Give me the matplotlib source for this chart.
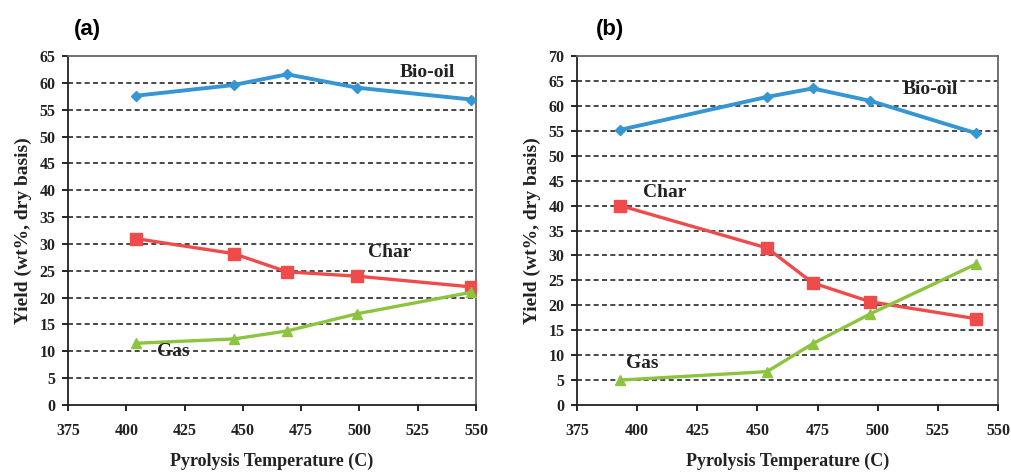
import matplotlib
matplotlib.use("Agg")
import matplotlib.pyplot as plt

# panel (a)
temp_a = [404, 446, 469, 499, 548]
biooil_a = [57.6, 59.6, 61.6, 59.1, 56.9]
char_a = [31.0, 28.2, 24.8, 24.0, 22.0]
gas_a = [11.5, 12.3, 13.8, 17.0, 21.0]

# panel (b)
temp_b = [393, 454, 473, 497, 541]
biooil_b = [55.2, 61.8, 63.5, 61.0, 54.5]
char_b = [40.0, 31.5, 24.5, 20.7, 17.3]
gas_b = [5.0, 6.7, 12.3, 18.3, 28.3]

x_ticks = [375, 400, 425, 450, 475, 500, 525, 550]

BLUE = "#3596d3"
RED = "#ef4b4b"
GREEN = "#8cc43f"
SERIF = "Liberation Serif"

plt.rcParams["font.family"] = SERIF
plt.rcParams["font.weight"] = "bold"

fig = plt.figure(figsize=(10.11, 4.72), dpi=100)
ax_a = fig.add_axes([0.0673, 0.1419, 0.4036, 0.7394])
ax_b = fig.add_axes([0.5707, 0.1419, 0.4164, 0.7394])


def draw(ax, t, bio, char, gas, ymax, labels, panel, panel_xy):
    ax.plot(t, bio, "-D", color=BLUE, lw=2.8, ms=5.5, zorder=3)
    ax.plot(t, char, "-s", color=RED, lw=2.4, ms=8.5, zorder=3)
    ax.plot(t, gas, "-^", color=GREEN, lw=2.4, ms=7.5, zorder=3)
    ax.set_xlim(375, 550)
    ax.set_ylim(0, ymax)
    ax.set_xticks(x_ticks)
    ax.set_yticks(range(0, ymax + 1, 5))
    for y in range(5, ymax, 5):
        ax.axhline(y, color="#2a2a2a", lw=1.2, ls=(0, (3, 2)), zorder=1)
    ax.tick_params(direction="out", length=4, width=1.2, labelsize=11.5)
    ax.tick_params(axis="x", pad=9)
    ax.tick_params(axis="y", pad=5)
    for lab in ax.get_xticklabels() + ax.get_yticklabels():
        lab.set_fontweight("bold")
        lab.set_color("#222222")
    for side in ["left", "bottom"]:
        ax.spines[side].set_color("#222222")
        ax.spines[side].set_linewidth(1.3)
    for side in ["top", "right"]:
        ax.spines[side].set_color("#666666")
        ax.spines[side].set_linewidth(1.3)
    ax.set_xlabel("Pyrolysis Temperature (C)", fontsize=13, fontweight="bold",
                  labelpad=10, color="#222222")
    ax.set_ylabel("Yield (wt%, dry basis)", fontsize=14, fontweight="bold",
                  labelpad=5, color="#222222")
    for txt, (x, y) in labels.items():
        ax.text(x, y, txt, fontsize=14, fontweight="bold", ha="center", va="center",
                color="#222222", zorder=4)
    fig.text(panel_xy[0], panel_xy[1], panel, fontsize=16, fontweight="bold",
             family="Liberation Sans", ha="center", va="center")


draw(ax_a, temp_a, biooil_a, char_a, gas_a, 65,
     {"Bio-oil": (529, 62.0), "Char": (513, 28.5), "Gas": (420, 9.9)},
     "(a)", (87 / 1011, 1 - 30 / 472))
draw(ax_b, temp_b, biooil_b, char_b, gas_b, 70,
     {"Bio-oil": (522, 63.2), "Char": (411.5, 42.7), "Gas": (402, 8.4)},
     "(b)", (610 / 1011, 1 - 30 / 472))

fig.savefig("out.png", dpi=100)
